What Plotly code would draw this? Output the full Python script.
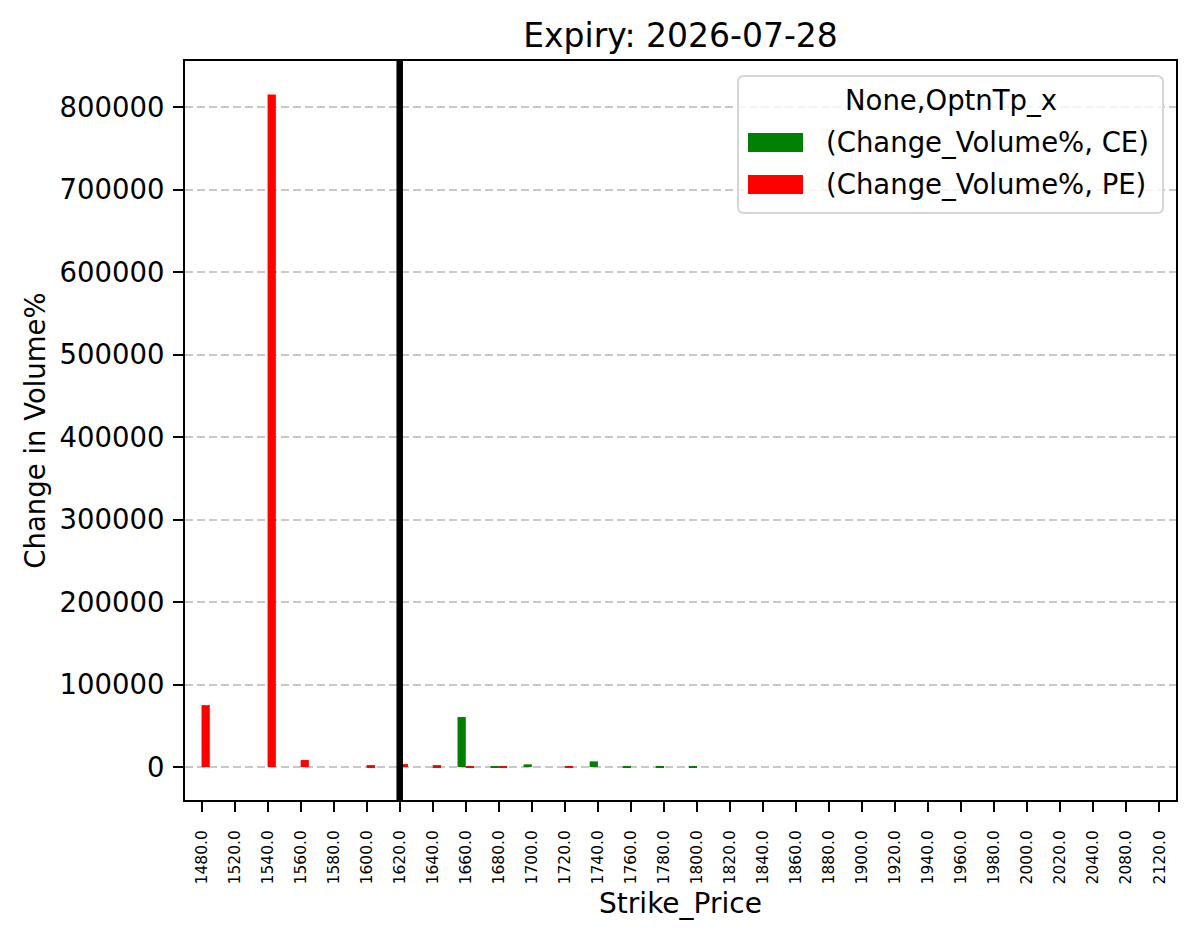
import plotly.graph_objects as go

# ---------------- data ----------------
strikes = ["1480.0", "1520.0", "1540.0", "1560.0", "1580.0", "1600.0", "1620.0", "1640.0",
           "1660.0", "1680.0", "1700.0", "1720.0", "1740.0", "1760.0", "1780.0", "1800.0",
           "1820.0", "1840.0", "1860.0", "1880.0", "1900.0", "1920.0", "1940.0", "1960.0",
           "1980.0", "2000.0", "2020.0", "2040.0", "2080.0", "2120.0"]
ce_change_volume_pct = [0, 0, 0, 0, 0, 0, 0, 0,
                        60600, 500, 3300, 0, 6900, 800, 600, 600,
                        0, 0, 0, 0, 0, 0, 0, 0,
                        0, 0, 0, 0, 0, 0]
pe_change_volume_pct = [75000, 0, 815000, 8500, 0, 2400, 3600, 2400,
                        600, 800, 0, 700, 0, 0, 0, 0,
                        0, 0, 0, 0, 0, 0, 0, 0,
                        0, 0, 0, 0, 0, 0]
series_names = ["(Change_Volume%, CE)", "(Change_Volume%, PE)"]
legend_title = "None,OptnTp_x"
spot_strike = "1620.0"
y_ticks = [0, 100000, 200000, 300000, 400000, 500000, 600000, 700000, 800000]
chart_title = "Expiry: 2026-07-28"
x_title = "Strike_Price"
y_title = "Change in Volume%"

# ---------------- layout geometry (px) ----------------
W, H = 1197, 939
L, R, T, B = 185, 1176, 61, 800
FONT = "DejaVu Sans"


def px_x(p):
    return (p - L) / (R - L)


def px_y(p):
    return (B - p) / (B - T)


all_vals = ce_change_volume_pct + pe_change_volume_pct
ymin, ymax = min(0, min(all_vals)), max(all_vals)
pad = 0.05 * (ymax - ymin)

fig = go.Figure()
fig.add_trace(go.Bar(x=strikes, y=ce_change_volume_pct, name=series_names[0],
                     marker=dict(color="#008000", line=dict(width=0)), showlegend=False))
fig.add_trace(go.Bar(x=strikes, y=pe_change_volume_pct, name=series_names[1],
                     marker=dict(color="#ff0000", line=dict(width=0)), showlegend=False))

# vertical line at the spot strike (category index on the category axis)
spot_idx = strikes.index(spot_strike)
fig.add_shape(type="line", xref="x", yref="paper", x0=spot_idx, x1=spot_idx,
              y0=0, y1=1, line=dict(color="black", width=6.5), layer="above")

# ---------------- custom legend (matplotlib style) ----------------
bx0, bx1, by0, by1 = 738, 1163, 76, 213
r = 6
rx = r / (R - L)
ry = r / (B - T)
X0, X1, Y0, Y1 = px_x(bx0), px_x(bx1), px_y(by1), px_y(by0)
path = (f"M {X0+rx},{Y0} L {X1-rx},{Y0} Q {X1},{Y0} {X1},{Y0+ry} "
        f"L {X1},{Y1-ry} Q {X1},{Y1} {X1-rx},{Y1} L {X0+rx},{Y1} Q {X0},{Y1} {X0},{Y1-ry} "
        f"L {X0},{Y0+ry} Q {X0},{Y0} {X0+rx},{Y0} Z")
fig.add_shape(type="path", xref="paper", yref="paper", path=path,
              fillcolor="rgba(255,255,255,0.8)", line=dict(color="#d6d6d6", width=2), layer="above")

fig.add_annotation(xref="paper", yref="paper", x=px_x((bx0 + bx1) / 2), y=px_y(101),
                   text=legend_title, showarrow=False, xanchor="center", yanchor="middle",
                   font=dict(family=FONT, size=27.5, color="black"))
entry_colors = ["#008000", "#ff0000"]
entry_y = [142.5, 184.5]
for name, col, ey in zip(series_names, entry_colors, entry_y):
    fig.add_shape(type="rect", xref="paper", yref="paper",
                  x0=px_x(748), x1=px_x(803), y0=px_y(ey + 9.5), y1=px_y(ey - 9.5),
                  fillcolor=col, line=dict(width=0), layer="above")
    fig.add_annotation(xref="paper", yref="paper", x=px_x(824), y=px_y(ey),
                       text=name, showarrow=False, xanchor="left", yanchor="middle",
                       font=dict(family=FONT, size=27.5, color="black"))

fig.update_layout(
    width=W, height=H,
    margin=dict(l=L, r=W - R, t=T, b=H - B, autoexpand=False),
    paper_bgcolor="white", plot_bgcolor="white",
    barmode="group", bargap=0.5, bargroupgap=0,
    font=dict(family=FONT, color="black"),
    title=dict(text=chart_title, x=px_x((L + R) / 2), xref="paper", xanchor="center",
               y=1 - 35 / H, yref="container", yanchor="middle",
               font=dict(family=FONT, size=33, color="black")),
)

fig.update_xaxes(
    type="category", categoryorder="array", categoryarray=strikes,
    range=[-0.5, len(strikes) - 0.5],
    showline=True, linecolor="black", linewidth=2, mirror=True,
    ticks="outside", ticklen=10, tickwidth=2, tickcolor="black",
    tickangle=-90, tickfont=dict(family=FONT, size=15.5, color="black"),
    ticklabelstandoff=12,
    showgrid=False, zeroline=False,
    title=dict(text=x_title, font=dict(family=FONT, size=28, color="black"), standoff=10),
    automargin=False,
)
fig.update_yaxes(
    range=[ymin - pad * 0.98, ymax + pad],
    tickmode="array", tickvals=y_ticks, ticktext=[str(v) for v in y_ticks],
    showline=True, linecolor="black", linewidth=2, mirror=True,
    ticks="outside", ticklen=10, tickwidth=2, tickcolor="black",
    tickfont=dict(family=FONT, size=27.5, color="black"),
    ticklabelstandoff=3,
    showgrid=True, gridcolor="#c8c8c8", gridwidth=2, griddash="8px,4px",
    zeroline=False,
    title=dict(text=y_title, font=dict(family=FONT, size=27.5, color="black"), standoff=6),
    automargin=False,
)

fig.write_html("out.html")
